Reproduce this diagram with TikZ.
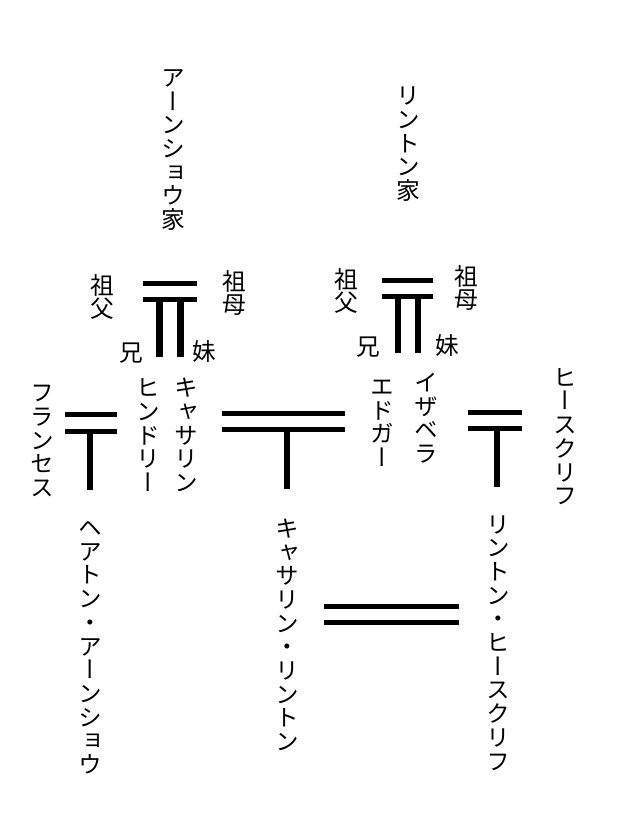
\documentclass[tikz,border=0pt]{standalone}
\usepackage{fontspec}
\newfontfamily\jpfont{Noto Sans CJK JP}[RawFeature={+vert}]
\newcommand\tate[1]{\vbox{\offinterlineskip\tateloop#1\relax}}
\newcommand\tateloop[1]{\ifx\relax#1\else\hbox to 1em{\vrule height .88em depth .12em width 0pt\hss#1\hss}\expandafter\tateloop\fi}
\tikzset{
  namae/.style = {font = \jpfont\fontsize{23.7}{23.7}\selectfont, inner sep = 0pt},
  bar/.style = {line width = 5pt},
  stem/.style = {line width = 6.5pt}
}
\begin{document}
\begin{tikzpicture}[x = 1pt, y = -1pt]
		\useasboundingbox (0,0) rectangle (620,821);
		
		\node (Earn) at (173,148.5) [namae] {\tate{アーンショウ家}};
		\node (Lint) at (408,143) [namae] {\tate{リントン家}};
		
		\node (Egf) at (102,297) [namae] {\tate{祖父}};
		\node (Egm) at (234,293) [namae] {\tate{祖母}};
		\node (Eani) at (131,353) [namae] {兄};
		\node (Eimo) at (204,352) [namae] {妹};
		\draw [bar] (143,283) -- (197,283);
		\draw [bar] (143,299.5) -- (197,299.5);
		\draw [stem] (159.5,299.5) -- (159.5,357);
		\draw [stem] (180.5,299.5) -- (180.5,357);
		
		\node (Lgf) at (346,291) [namae] {\tate{祖父}};
		\node (Lgm) at (466,288) [namae] {\tate{祖母}};
		\node (Lani) at (368,347) [namae] {兄};
		\node (Limo) at (447,346) [namae] {妹};
		\draw [bar] (382,280) -- (433,280);
		\draw [bar] (382,296) -- (433,296);
		\draw [stem] (398,296) -- (398,353);
		\draw [stem] (418,296) -- (418,353);
		
		\node (Hind) at (148,435) [namae] {\tate{ヒンドリー}};
		\node (Cath) at (186,435) [namae] {\tate{キャサリン}};
		\node (Edg) at (382,422) [namae] {\tate{エドガー}};
		\node (Isa) at (426,418) [namae] {\tate{イザベラ}};
		\node (Fran) at (42,440) [namae] {\tate{フランセス}};
		\node (Heath) at (565,436.5) [namae] {\tate{ヒースクリフ}};
		
		\draw [bar] (65,414) -- (117,414);
		\draw [bar] (65,431) -- (117,431);
		\draw [stem] (90,431) -- (90,490);
		
		\draw [bar] (222,413) -- (345,413);
		\draw [bar] (222,429) -- (345,429);
		\draw [stem] (287,429) -- (287,489);
		
		\draw [bar] (468,412) -- (522,412);
		\draw [bar] (468,428) -- (522,428);
		\draw [stem] (497,428) -- (497,487);
		
		\node (Hare) at (90,646) [namae] {\tate{ヘアトン・アーンショウ}};
		\node (Cathy) at (287,635) [namae] {\tate{キャサリン・リントン}};
		\node (LintH) at (498,642.5) [namae] {\tate{リントン・ヒースクリフ}};
		\draw [bar] (324,606) -- (459,606);
		\draw [bar] (324,622) -- (459,622);
\end{tikzpicture}
\end{document}
